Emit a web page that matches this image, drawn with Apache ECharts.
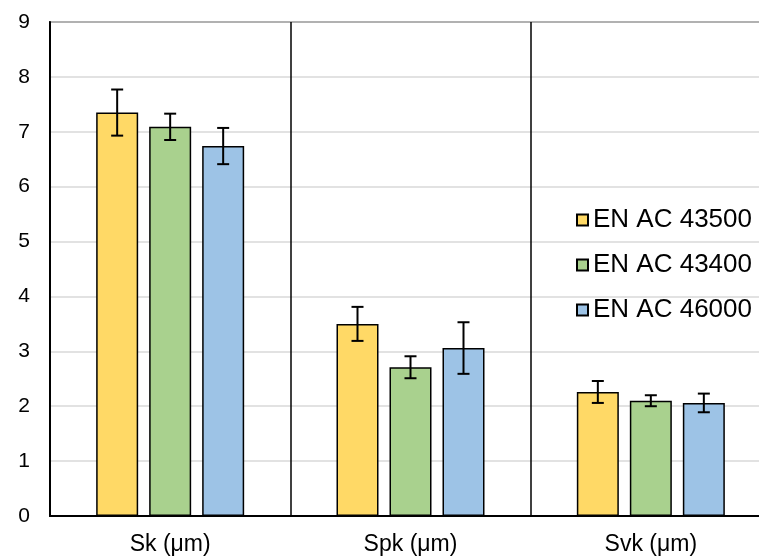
<!DOCTYPE html>
<html>
<head>
<meta charset="utf-8">
<script src="https://cdn.jsdelivr.net/npm/echarts@6/dist/echarts.min.js"></script>
<style>
html,body{margin:0;padding:0;background:#fff;}
#chart{width:759px;height:556px;}
</style>
</head>
<body>
<div id="chart"></div>
<script>
const categories = ['Sk (μm)', 'Spk (μm)', 'Svk (μm)'];
const seriesNames = ['EN AC 43500', 'EN AC 43400', 'EN AC 46000'];
const valuesA = [7.35, 3.50, 2.26];
const errorsA = [0.42, 0.31, 0.20];
const valuesB = [7.09, 2.71, 2.10];
const errorsB = [0.24, 0.20, 0.10];
const valuesC = [6.74, 3.06, 2.06];
const errorsC = [0.33, 0.47, 0.17];
const yTicks = [0, 1, 2, 3, 4, 5, 6, 7, 8, 9];

const colors = ['#FFD966', '#A9D18E', '#9DC3E6'];
const allValues = [valuesA, valuesB, valuesC];
const allErrors = [errorsA, errorsB, errorsC];
const BAR_W = 42, BAR_GAP = 11;
const FONT = "'Liberation Sans', Arial, sans-serif";

const chart = echarts.init(document.getElementById('chart'), null, {renderer: 'canvas'});

const series = [];
seriesNames.forEach((name, i) => {
  series.push({
    name: name,
    type: 'bar',
    data: allValues[i],
    barWidth: BAR_W,
    barGap: (BAR_GAP / BAR_W * 100) + '%',
    itemStyle: {color: colors[i], borderColor: '#000', borderWidth: 1.5},
    z: 2
  });
});
seriesNames.forEach((name, i) => {
  const offset = (i - 1) * (BAR_W + BAR_GAP);
  series.push({
    type: 'custom',
    name: name + ' err',
    data: allValues[i].map((v, k) => [k, v - allErrors[i][k], v + allErrors[i][k]]),
    encode: {x: 0, y: [1, 2]},
    z: 5,
    silent: true,
    renderItem: function (params, api) {
      const ci = api.value(0);
      const lo = api.coord([ci, api.value(1)]);
      const hi = api.coord([ci, api.value(2)]);
      const x = hi[0] + offset;
      const cap = 6;
      const st = {stroke: '#000', lineWidth: 2};
      return {
        type: 'group',
        children: [
          {type: 'line', shape: {x1: x, y1: hi[1], x2: x, y2: lo[1]}, style: st},
          {type: 'line', shape: {x1: x - cap, y1: hi[1], x2: x + cap, y2: hi[1]}, style: st},
          {type: 'line', shape: {x1: x - cap, y1: lo[1], x2: x + cap, y2: lo[1]}, style: st}
        ]
      };
    }
  });
});

chart.setOption({
  animation: false,
  backgroundColor: '#fff',
  textStyle: {fontFamily: FONT},
  grid: {
    left: 50, top: 22, right: -12, bottom: 40,
    outerBoundsMode: 'none',
    containLabel: false,
    show: true, borderColor: '#000', borderWidth: 1.5, backgroundColor: 'transparent'
  },
  legend: {
    data: seriesNames,
    orient: 'vertical',
    left: 571,
    top: 202,
    itemWidth: 11,
    itemHeight: 11,
    itemGap: 19,
    icon: 'rect',
    textStyle: {fontSize: 26, color: '#000', fontFamily: FONT}
  },
  xAxis: {
    type: 'category',
    data: categories,
    axisLine: {show: true, lineStyle: {color: '#000', width: 2}},
    axisTick: {show: false},
    axisLabel: {fontSize: 23, color: '#000', margin: 17, fontFamily: FONT},
    splitLine: {show: true, interval: 0, lineStyle: {color: '#000', width: 1.5}}
  },
  yAxis: {
    type: 'value',
    min: yTicks[0],
    max: yTicks[yTicks.length - 1],
    interval: 1,
    axisLine: {show: true, lineStyle: {color: '#000', width: 2}},
    axisTick: {show: false},
    axisLabel: {fontSize: 21, color: '#000', margin: 20, fontFamily: FONT},
    splitLine: {show: true, lineStyle: {color: '#d9d9d9', width: 1.5}}
  },
  series: series
});
</script>
</body>
</html>
